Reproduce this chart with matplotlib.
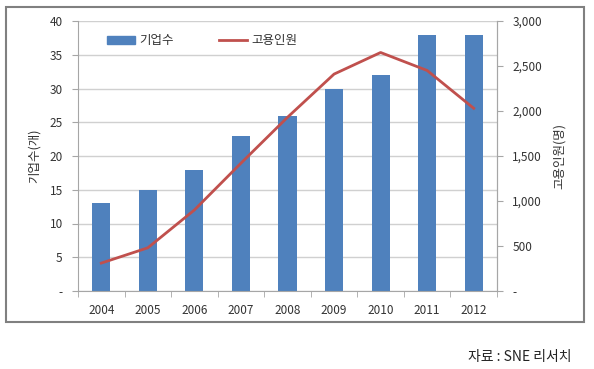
import matplotlib
matplotlib.use("Agg")
import matplotlib.pyplot as plt
from matplotlib.patches import Rectangle
from matplotlib.lines import Line2D
from matplotlib.ticker import FuncFormatter

plt.rcParams['font.family'] = ['Noto Sans CJK KR', 'DejaVu Sans']

years = ['2004', '2005', '2006', '2007', '2008', '2009', '2010', '2011', '2012']
companies = [13, 15, 18, 23, 26, 30, 32, 38, 38]
employees = [310, 480, 900, 1420, 1930, 2410, 2650, 2450, 2030]
bar_label = '기업수'
line_label = '고용인원'
left_ylabel = '기업수(개)'
right_ylabel = '고용인원(명)'
source = '자료 : SNE 리서치'

bar_color = '#4F81BD'
line_color = '#C0504D'
grid_color = '#D0D0D0'
spine_color = '#A6A6A6'
text_color = '#333333'

fig = plt.figure(figsize=(5.94, 3.69), dpi=100)
W, H = 594, 369
ax = fig.add_axes([78 / W, 1 - 291 / H, (497 - 78) / W, (291 - 21) / H])
ax2 = ax.twinx()

x = list(range(len(years)))
ax.bar(x, companies, width=0.39, color=bar_color, zorder=2)
ax2.plot(x, employees, color=line_color, linewidth=2, zorder=3)

ax.set_xlim(-0.5, len(years) - 0.5)
ax.set_ylim(0, 40)
ax2.set_ylim(0, 3000)
ax.set_yticks(range(0, 41, 5))
ax2.set_yticks(range(0, 3001, 500))
ax.yaxis.set_major_formatter(FuncFormatter(lambda v, p: '-' if v == 0 else f'{int(v)}'))
ax2.yaxis.set_major_formatter(FuncFormatter(lambda v, p: '-' if v == 0 else f'{int(v):,}'))

ax.set_xticks(x)
ax.set_xticklabels(years)
ax.set_xticks([i - 0.5 for i in range(len(years) + 1)], minor=True)
ax.tick_params(axis='x', which='major', length=0, pad=9, labelsize=8.5, labelcolor=text_color)
ax.tick_params(axis='x', which='minor', length=4, color=spine_color, direction='out')
ax.tick_params(axis='y', length=4, color=spine_color, pad=7, labelsize=8.5, labelcolor=text_color)
ax2.tick_params(axis='y', length=4, color=spine_color, pad=7, labelsize=8.5, labelcolor=text_color)

ax.yaxis.grid(True, color=grid_color, linewidth=1, zorder=0)
ax.set_axisbelow(True)

for a in (ax, ax2):
    a.spines['top'].set_visible(False)
    for s in ('left', 'right', 'bottom'):
        a.spines[s].set_color(spine_color)
ax2.spines['left'].set_visible(False)
ax2.spines['bottom'].set_visible(False)

ax.set_ylabel(left_ylabel, fontsize=9, color=text_color, labelpad=6)
ax2.set_ylabel(right_ylabel, fontsize=9, color=text_color, rotation=90, labelpad=8)

handles = [Rectangle((0, 0), 1, 1, color=bar_color),
           Line2D([0], [0], color=line_color, linewidth=2)]
ax2.legend(handles, [bar_label, line_label], loc='center left',
           bbox_to_anchor=(0.043, 0.926), ncol=2, frameon=False,
           fontsize=9, handlelength=2.2, handleheight=0.55, handletextpad=0.4,
           columnspacing=3.6, labelcolor=text_color)

fig.patches.append(Rectangle((6 / W, 1 - 322 / H), 578 / W, 315 / H,
                             transform=fig.transFigure, fill=False,
                             edgecolor='#808080', linewidth=1.5))

fig.text(572 / W, 1 - 357 / H, source, ha='right', va='center', fontsize=10, color='#222222')

fig.savefig('out.png', dpi=100)
